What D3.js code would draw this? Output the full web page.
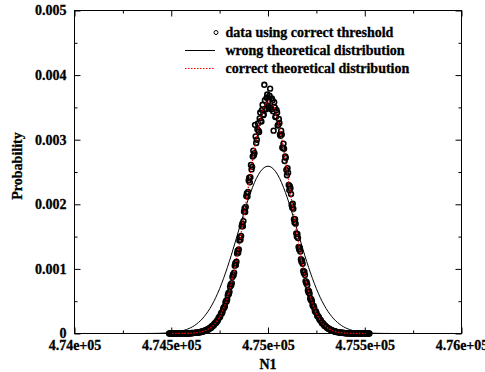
<!DOCTYPE html>
<html>
<head>
<meta charset="utf-8">
<script src="https://cdn.jsdelivr.net/npm/d3@7"></script>
<style>
  body { margin: 0; background: #fff; }
  text { font-family: "Liberation Serif", "Times New Roman", serif; font-weight: bold; font-size: 14px; fill: #000; stroke: #000; stroke-width: 0.3px; }
</style>
</head>
<body>
<svg id="chart" width="485" height="372"></svg>
<script>
// measured histogram, probabilities in units of 1e-6
// run A: N1 every 6 from 474489
const dataStartA = 474489, dataStep = 6;
const dataProbA = [
  0,1,0,0,1,0,1,0,1,0,1,2,1,1,2,1,
  3,2,5,4,7,6,10,12,11,18,17,25,23,35,33,48,47,64,62,86,
  88,115,119,150,158,196,205,252,262,322,335,405,420,505,525,622,645,760,780,915,
  940,1090,1110,1280,1300,1490,1510,1700,1740,1940,1960,2170,2190,2410,2420,2540,2740,2760,3230,2950,
  3160,3140,3330,3290,3460,3380,3850,3480,3650,3520,
  3600,3790,3470,3610,3140,3500,3360,3420,3230,3260,
  3060,3080,2870,2860,2740,2530,2560,2300,2280,2160,1950,1930,1720,1700,1500,1480,1300,1270,1110,1080,
  935,905,780,750,640,615,520,500,420,400,335,316,262,248,204,192,156,146,118,110,
  88,81,65,60,48,44,35,31,24,22,18,16,12,11,8,8,5,5,3,3,
  2,2,1,1,1,0,1,0,1,0,0,1,0,0,1,0,0
];
// run B: N1 every 6 from 474492
const dataStartB = 474492;
const dataProbB = [
  0,0,1,0,0,1,0,1,0,1,1,0,2,1,1,2,
  1,4,3,7,6,10,9,14,13,20,19,27,26,38,37,52,50,70,68,92,
  94,122,128,160,168,190,236,248,300,315,380,400,480,495,590,610,725,745,875,900,
  1050,1060,1240,1250,1440,1450,1660,1660,1890,1880,2130,2120,2370,2340,2610,2580,2830,2790,3050,3000,
  3250,3120,3420,3280,3540,3390,3610,3470,3700,3500,
  3680,3500,3640,3440,3580,3350,3460,3220,3320,3080,
  3140,2880,2940,2670,2720,2450,2490,2220,2250,1990,2010,1770,1770,1550,1540,1340,1330,1150,1130,970,
  955,810,795,670,655,545,530,440,428,350,340,278,266,218,208,167,159,127,120,95,
  90,71,67,52,49,38,36,27,25,19,18,14,13,9,9,6,6,4,4,2,
  2,1,1,2,1,0,1,1,0,0,1,0,0,1,0,0,0
];

// wrong theoretical curve, every 20 from 474300
const wrongStart = 474300, wrongStep = 20;
const wrongProb = [
  0,0,0,0,1,1,2,3,6,9,13,20,30,44,63,89,123,169,226,299,388,496,623,769,934,1114,1308,1510,1713,1912,2098,2263,2401,2504,2568,
  2590,
  2568,2504,2401,2263,2098,1912,1713,1510,1308,1114,934,769,623,496,388,299,226,169,123,89,63,44,30,20,13,9,6,3,2,1,1,0,0,0,0
];

// correct theoretical curve, every 20 from 474505
const correctStart = 474505, correctStep = 20;
const correctProb = [
  0,0,1,1,3,5,10,19,33,56,93,149,231,347,504,709,965,1272,1622,2003,2395,2772,3106,3368,3536,
  3594,
  3536,3368,3106,2772,2395,2003,1622,1272,965,709,504,347,231,149,93,56,33,19,10,5,3,1,1,0,0
];

const xTicks = [474000, 474500, 475000, 475500, 476000];
const xMinorTicks = [474250, 474750, 475250, 475750];
const yTicks = [0, 0.001, 0.002, 0.003, 0.004, 0.005];
const yMinorTicks = [0.0005, 0.0015, 0.0025, 0.0035, 0.0045];
const legendLabels = ["data using correct threshold", "wrong theoretical distribution", "correct theoretical distribution"];

const svg = d3.select("#chart");
const x = d3.scaleLinear().domain([474000, 476000]).range([74.5, 461.5]);
const y = d3.scaleLinear().domain([0, 0.005]).range([333.5, 10.5]);

const fmtX = d => (+(d / 1e5).toFixed(4)) + "e+05";
const fmtY = d => d === 0 ? "0" : d3.format(".3f")(d);

function noDomain(g) { g.select(".domain").remove(); }

// bottom / top
svg.append("g").attr("transform", `translate(0,${y(0)})`)
  .call(d3.axisBottom(x).tickValues(xTicks).tickSize(-6).tickPadding(7).tickFormat(fmtX)).call(noDomain);
svg.append("g").attr("transform", `translate(0,${y(0)})`)
  .call(d3.axisBottom(x).tickValues(xMinorTicks).tickSize(-3).tickFormat("")).call(noDomain);
svg.append("g").attr("transform", `translate(0,${y(0.005)})`)
  .call(d3.axisTop(x).tickValues(xTicks).tickSize(-6).tickFormat("")).call(noDomain);
svg.append("g").attr("transform", `translate(0,${y(0.005)})`)
  .call(d3.axisTop(x).tickValues(xMinorTicks).tickSize(-3).tickFormat("")).call(noDomain);

// left / right
svg.append("g").attr("transform", `translate(${x(474000)},0)`)
  .call(d3.axisLeft(y).tickValues(yTicks).tickSize(-6).tickPadding(8).tickFormat(fmtY)).call(noDomain);
svg.append("g").attr("transform", `translate(${x(474000)},0)`)
  .call(d3.axisLeft(y).tickValues(yMinorTicks).tickSize(-3).tickFormat("")).call(noDomain);
svg.append("g").attr("transform", `translate(${x(476000)},0)`)
  .call(d3.axisRight(y).tickValues(yTicks).tickSize(-6).tickFormat("")).call(noDomain);
svg.append("g").attr("transform", `translate(${x(476000)},0)`)
  .call(d3.axisRight(y).tickValues(yMinorTicks).tickSize(-3).tickFormat("")).call(noDomain);

svg.append("rect")
  .attr("x", x(474000)).attr("y", y(0.005))
  .attr("width", x(476000) - x(474000)).attr("height", y(0) - y(0.005))
  .attr("fill", "none").attr("stroke", "#000").attr("stroke-width", 1);

// axis titles
svg.append("text").attr("x", 268).attr("y", 369).attr("text-anchor", "middle").text("N1");
svg.append("text").attr("transform", "translate(21.5,166) rotate(-90)").attr("text-anchor", "middle").text("Probability");

// data points
const toPts = (arr, start, step) => arr.map((p, i) => ({n: start + i * step, p: p * 1e-6}));
const points = toPts(dataProbA, dataStartA, dataStep).concat(toPts(dataProbB, dataStartB, dataStep));
svg.append("g").selectAll("circle").data(points).enter().append("circle")
  .attr("cx", d => x(d.n)).attr("cy", d => y(d.p)).attr("r", 2.4)
  .attr("fill", "none").attr("stroke", "#000").attr("stroke-width", 1.6);

const line = d3.line().x(d => x(d.n)).y(d => y(d.p)).curve(d3.curveMonotoneX);

svg.append("path").datum(toPts(wrongProb, wrongStart, wrongStep)).attr("d", line)
  .attr("fill", "none").attr("stroke", "#000").attr("stroke-width", 1);
svg.append("path").datum(toPts(correctProb, correctStart, correctStep)).attr("d", line)
  .attr("fill", "none").attr("stroke", "#f00").attr("stroke-width", 1.2).attr("stroke-dasharray", "1.5,1.5");

// legend
const legend = svg.append("g");
const rowY = [36.5, 54.5, 72.5];
legend.selectAll("text").data(legendLabels).enter().append("text")
  .attr("x", 225.5).attr("y", (d, i) => rowY[i]).text(d => d);
legend.append("circle").attr("cx", 216).attr("cy", 32.5).attr("r", 2)
  .attr("fill", "none").attr("stroke", "#000");
legend.append("line").attr("x1", 185).attr("x2", 215).attr("y1", 50.5).attr("y2", 50.5)
  .attr("stroke", "#000");
legend.append("line").attr("x1", 185).attr("x2", 215).attr("y1", 68.5).attr("y2", 68.5)
  .attr("stroke", "#f00").attr("stroke-dasharray", "1.5,1.5");
</script>
</body>
</html>
